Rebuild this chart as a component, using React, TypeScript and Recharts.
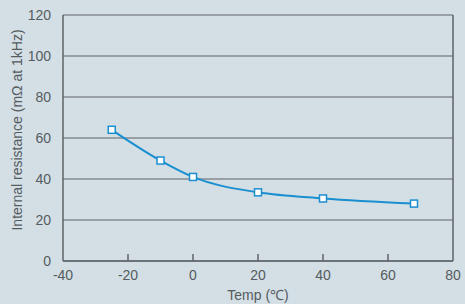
import React from "react";
import { LineChart, Line, XAxis, YAxis, CartesianGrid, ReferenceLine } from "recharts";

const temps = [-25, -10, 0, 20, 40, 68];
const resistance = [64, 49, 41, 33.5, 30.5, 28];
const xTicks = [-40, -20, 0, 20, 40, 60, 80];
const yTicks = [0, 20, 40, 60, 80, 100, 120];

const data = temps.map((t, i) => ({ t, r: resistance[i] }));

const TEXT = "#555b60";
const AXIS = "#5f6366";
const BLUE = "#1a8fd0";
const FONT = "'Liberation Sans', Arial, sans-serif";

const XTick = (props: any) => {
  const { x, y, payload } = props;
  const v = payload.value;
  const showLine = v !== -40 && v !== 80;
  return (
    <g>
      {showLine && <line x1={x} x2={x} y1={y} y2={y - 7} stroke={AXIS} strokeWidth={1.5} />}
      <text x={x} y={y + 19} textAnchor="middle" fill={TEXT} fontSize={14} fontFamily={FONT}>
        {v}
      </text>
    </g>
  );
};

const YLabel = (props: any) => {
  const vb = props.viewBox || { x: 0, y: 15, width: 63, height: 246 };
  const cx = 17;
  const cy = vb.y + vb.height / 2 - 8;
  return (
    <text
      x={cx}
      y={cy}
      transform={`rotate(-90 ${cx} ${cy})`}
      textAnchor="middle"
      dominantBaseline="central"
      fill={TEXT}
      fontSize={14}
      fontFamily={FONT}
    >
      Internal resistance (mΩ at 1kHz)
    </text>
  );
};

const SquareDot = (props: any) => {
  const { cx, cy } = props;
  if (cx == null || cy == null) return null;
  return <rect x={cx - 3.5} y={cy - 3.5} width={7} height={7} fill="#ffffff" stroke={BLUE} strokeWidth={1.5} />;
};

export default function App() {
  return (
    <div style={{ position: "fixed", left: 0, top: 0, width: 465, height: 304, background: "#d3dfe5" }}>
      <LineChart width={465} height={304} data={data} margin={{ top: 15, right: 12, left: 0, bottom: 0 }}>
        <CartesianGrid vertical={false} stroke={AXIS} strokeWidth={1.2} />
        <XAxis
          dataKey="t"
          type="number"
          domain={[-40, 80]}
          ticks={xTicks}
          height={43}
          tickLine={false}
          tickSize={0}
          tickMargin={0}
          axisLine={{ stroke: AXIS, strokeWidth: 1.5 }}
          tick={<XTick />}
          interval={0}
          label={{ value: "Temp (℃)", position: "insideBottom", offset: 4, fill: TEXT, fontSize: 14, fontFamily: FONT }}
        />
        <YAxis
          type="number"
          domain={[0, 120]}
          ticks={yTicks}
          width={63}
          tickLine={false}
          axisLine={{ stroke: AXIS, strokeWidth: 1.5 }}
          tickMargin={6}
          tick={{ fill: TEXT, fontSize: 14, fontFamily: FONT }}
          interval={0}
          label={<YLabel />}
        />
        <ReferenceLine x={80} stroke={AXIS} strokeWidth={1.5} />
        <Line
          type="monotone"
          dataKey="r"
          stroke={BLUE}
          strokeWidth={2}
          dot={<SquareDot />}
          activeDot={false}
          isAnimationActive={false}
        />
      </LineChart>
    </div>
  );
}
